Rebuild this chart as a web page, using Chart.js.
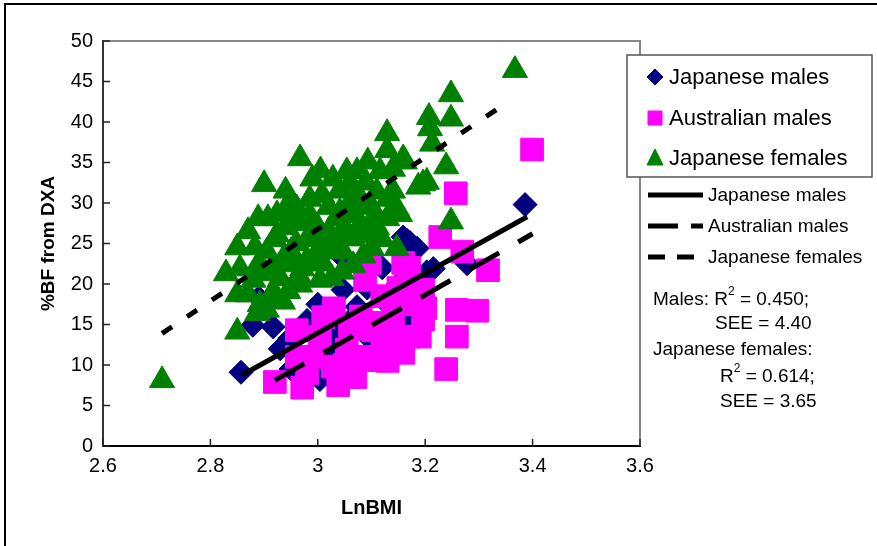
<!DOCTYPE html>
<html>
<head>
<meta charset="utf-8">
<script src="https://cdn.jsdelivr.net/npm/chart.js@4.4.1/dist/chart.umd.min.js"></script>
<style>
  html, body { margin: 0; padding: 0; background: #fff; }
  #wrap { position: relative; width: 877px; height: 546px; }
</style>
</head>
<body>
<div id="wrap"><canvas id="chart" width="877" height="546"></canvas></div>
<script>
// Japanese males (diamonds)
var jmX = [3.386, 2.857, 3.278, 3.172, 3.185, 3.203, 3.215, 3.047, 2.879, 2.917, 2.948, 3.032, 3.041, 2.985, 3.004, 3.166, 3.159, 3.073,
    3.092, 2.967, 2.950, 2.890, 3.060, 3.100, 3.130, 3.150, 3.020, 3.080, 2.980, 3.000, 3.120, 3.170, 3.200, 3.030, 2.930, 3.050];
var jmY = [29.8, 9.1, 22.5, 25.1, 24.4, 21.5, 21.9, 19.3, 14.9, 14.7, 13.3, 14.0, 12.8, 8.5, 8.2, 25.4, 25.8, 17.2,
    19.5, 8.4, 9.5, 18.3, 15.5, 13.0, 17.5, 20.0, 11.5, 11.0, 15.5, 17.5, 22.0, 15.0, 18.0, 8.0, 12.0, 23.0];

// Australian males (squares)
var amX = [3.399, 3.257, 3.228, 3.269, 3.317, 3.259, 3.297, 3.259, 3.239, 3.159, 3.196, 3.196, 3.190, 3.159, 3.140, 3.116, 3.092, 3.088,
    3.097, 2.920, 2.971, 3.038, 2.961, 2.961, 3.010, 3.028, 3.054, 3.092, 3.103, 3.004, 3.060, 3.120, 3.140, 3.170, 3.180, 3.150,
    3.120, 3.200, 2.990, 3.070, 3.030, 3.080, 3.150, 3.170, 2.980, 3.050, 3.130, 3.165];
var amY = [36.6, 31.2, 25.8, 24.0, 21.7, 16.8, 16.7, 13.5, 9.5, 22.6, 19.3, 15.6, 13.5, 11.5, 17.2, 15.2, 11.0, 20.5,
    22.6, 7.9, 7.2, 7.5, 14.3, 11.0, 15.9, 9.8, 11.9, 10.6, 14.3, 13.5, 14.5, 13.0, 14.5, 13.5, 17.5, 19.5,
    18.5, 17.0, 11.0, 8.5, 17.0, 16.0, 12.5, 22.0, 9.0, 10.0, 10.5, 19.0];

// Japanese females (triangles)
var jfX = [2.710, 3.367, 3.248, 3.248, 3.207, 3.209, 3.213, 3.129, 3.239, 3.159, 3.196, 3.187, 3.248, 3.147, 3.147, 2.967, 2.900, 2.829,
    2.850, 2.850, 2.850, 2.889, 2.907, 2.883, 2.948, 2.902, 2.896, 2.935, 2.892, 2.917, 2.945, 2.971, 2.870, 2.855, 2.889, 2.905,
    2.924, 2.961, 2.985, 3.028, 3.054, 3.073, 3.093, 3.116, 3.140, 3.041, 3.079, 3.103, 3.064, 3.026, 3.047, 2.954, 2.985, 2.924,
    2.940, 3.008, 2.930, 2.905, 2.967, 2.999, 3.036, 3.079, 3.110, 3.066, 3.101, 3.129, 3.153, 3.203, 3.129, 3.162, 3.026, 3.000,
    2.887, 2.924, 3.004, 2.920, 2.940, 2.960, 2.980, 3.000, 3.020, 3.040, 3.060, 3.080, 3.100, 3.120, 3.050, 2.990, 3.020, 3.090,
    3.130, 2.950, 2.975, 3.070, 3.010, 3.060, 3.110, 2.935, 2.955, 3.040, 2.870, 2.880, 3.085, 3.140, 3.005, 2.965, 2.995, 3.015,
    3.045, 2.915, 2.945, 3.075, 3.095, 2.985, 3.055];
var jfY = [8.1, 46.4, 43.4, 40.4, 40.6, 39.2, 37.3, 38.6, 34.5, 35.5, 32.4, 32.0, 27.7, 29.3, 24.4, 35.5, 32.3, 21.3,
    24.5, 18.7, 14.1, 28.1, 28.1, 24.5, 30.2, 21.3, 17.0, 17.8, 17.5, 19.1, 19.1, 21.9, 18.7, 21.9, 22.4, 24.0,
    26.1, 29.3, 30.5, 33.0, 33.9, 33.9, 35.1, 33.9, 34.2, 28.9, 30.2, 28.1, 25.6, 20.7, 24.0, 22.4, 26.1, 28.6,
    31.5, 31.0, 20.7, 16.8, 19.9, 24.0, 28.1, 27.3, 31.4, 22.3, 24.4, 28.1, 28.6, 32.6, 36.5, 35.1, 24.9, 22.8,
    16.4, 18.0, 20.5, 25.5, 27.0, 25.0, 23.0, 27.0, 29.5, 31.5, 30.0, 26.0, 29.5, 25.5, 27.0, 33.0, 26.5, 32.5,
    30.5, 24.0, 27.5, 28.5, 22.5, 32.5, 27.0, 23.0, 28.0, 26.0, 26.5, 20.5, 23.5, 31.5, 34.0, 21.0, 25.5, 24.0,
    21.5, 22.0, 29.0, 31.0, 26.5, 28.5, 29.5];

// regression lines (end points)
var jmLineX = [2.86, 3.39], jmLineY = [8.8, 28.3];
var amLineX = [2.92, 3.40], amLineY = [8.1, 26.2];
var jfLineX = [2.71, 3.35], jfLineY = [13.9, 42.3];

var xTicks = ['2.6', '2.8', '3', '3.2', '3.4', '3.6'];
var yTicks = ['0', '5', '10', '15', '20', '25', '30', '35', '40', '45', '50'];

var seriesNames = ['Japanese males', 'Australian males', 'Japanese females'];
var NAVY = '#000080', PINK = '#ff00ff', GREEN = '#008000';
var FONT = "'Liberation Sans', Arial, sans-serif";

function pts(xs, ys) {
    return xs.map(function (x, i) { return { x: x, y: ys[i] }; });
}

var decor = {
    id: 'decor',
    beforeDraw: function (chart) {
        var ctx = chart.ctx;
        ctx.save();
        ctx.fillStyle = '#fff';
        ctx.fillRect(0, 0, chart.width, chart.height);
        ctx.strokeStyle = '#000';
        ctx.lineWidth = 2;
        ctx.beginPath();
        ctx.moveTo(5, chart.height);
        ctx.lineTo(5, 4);
        ctx.lineTo(chart.width, 4);
        ctx.stroke();
        ctx.restore();
    },
    beforeDatasetsDraw: function (chart) {
        var ctx = chart.ctx, a = chart.chartArea, xs = chart.scales.x, ys = chart.scales.y;
        ctx.save();
        // gray top / right frame of the plot area
        ctx.strokeStyle = '#888';
        ctx.lineWidth = 2;
        ctx.beginPath();
        ctx.moveTo(a.left, a.top);
        ctx.lineTo(a.right, a.top);
        ctx.lineTo(a.right, a.bottom);
        ctx.stroke();
        // inside tick marks
        ctx.strokeStyle = '#222';
        ctx.lineWidth = 1.5;
        ctx.beginPath();
        xTicks.forEach(function (t) {
            var px = xs.getPixelForValue(parseFloat(t));
            ctx.moveTo(px, a.bottom);
            ctx.lineTo(px, a.bottom - 7);
        });
        yTicks.forEach(function (t) {
            var py = ys.getPixelForValue(parseFloat(t));
            ctx.moveTo(a.left, py);
            ctx.lineTo(a.left + 7, py);
        });
        ctx.stroke();
        ctx.restore();
    },
    afterDraw: function (chart) {
        var ctx = chart.ctx;
        ctx.save();
        // marker legend box
        ctx.fillStyle = '#fff';
        ctx.fillRect(627, 55, 245, 122);
        ctx.strokeStyle = '#555';
        ctx.lineWidth = 1.5;
        ctx.strokeRect(627, 55, 245, 122);

        var rows = [77, 118, 158];
        var marks = chart.data.datasets.slice(3);
        ctx.textBaseline = 'middle';
        ctx.textAlign = 'left';
        marks.forEach(function (ds, i) {
            var y = rows[i];
            ctx.fillStyle = ds.backgroundColor;
            ctx.strokeStyle = ds.borderColor;
            ctx.lineWidth = 1;
            ctx.beginPath();
            if (ds.pointStyle === 'rectRot') {
                ctx.moveTo(655, y - 8); ctx.lineTo(663, y); ctx.lineTo(655, y + 8); ctx.lineTo(647, y);
            } else if (ds.pointStyle === 'rect') {
                ctx.rect(648, y - 7, 14, 14);
            } else {
                ctx.moveTo(655, y - 9); ctx.lineTo(663, y + 7); ctx.lineTo(647, y + 7);
            }
            ctx.closePath();
            ctx.fill();
            ctx.stroke();
            ctx.fillStyle = '#000';
            ctx.font = '22px ' + FONT;
            ctx.fillText(ds.label, 669, y + 1);
        });

        // line legend
        var lrows = [195, 226, 257];
        var ldash = [[], [30, 13], [17, 12]];
        ctx.strokeStyle = '#000';
        ctx.lineWidth = 5;
        lrows.forEach(function (y, i) {
            ctx.setLineDash(ldash[i]);
            ctx.beginPath();
            ctx.moveTo(648, y);
            ctx.lineTo(703, y);
            ctx.stroke();
            ctx.setLineDash([]);
            ctx.font = '19px ' + FONT;
            ctx.fillText(seriesNames[i], 708, y + 1);
        });

        // statistics text
        function supLine(x, y, pre, post) {
            ctx.font = '19px ' + FONT;
            ctx.fillText(pre, x, y);
            var w = ctx.measureText(pre).width;
            ctx.font = '12px ' + FONT;
            ctx.fillText('2', x + w, y - 8);
            var w2 = ctx.measureText('2').width;
            ctx.font = '19px ' + FONT;
            ctx.fillText(post, x + w + w2, y);
        }
        supLine(653, 300, 'Males: R', ' = 0.450;');
        ctx.font = '19px ' + FONT;
        ctx.fillText('SEE = 4.40', 715, 324);
        ctx.fillText('Japanese females:', 653, 350);
        supLine(720, 377, 'R', ' = 0.614;');
        ctx.font = '19px ' + FONT;
        ctx.fillText('SEE = 3.65', 720, 402);
        ctx.restore();
    }
};

window.onload = function () {
    var ctx = document.getElementById('chart').getContext('2d');
    new Chart(ctx, {
        type: 'scatter',
        data: {
            datasets: [{
                label: seriesNames[0] + ' fit',
                data: pts(jmLineX, jmLineY),
                showLine: true,
                borderColor: '#000',
                borderWidth: 5,
                pointRadius: 0,
                order: 0
            }, {
                label: seriesNames[1] + ' fit',
                data: pts(amLineX, amLineY),
                showLine: true,
                borderColor: '#000',
                borderWidth: 5,
                borderDash: [34, 22],
                pointRadius: 0,
                order: 1
            }, {
                label: seriesNames[2] + ' fit',
                data: pts(jfLineX, jfLineY),
                showLine: true,
                borderColor: '#000',
                borderWidth: 5,
                borderDash: [12, 18],
                pointRadius: 0,
                order: 2
            }, {
                label: seriesNames[0],
                data: pts(jmX, jmY),
                pointStyle: 'rectRot',
                pointRadius: 12,
                backgroundColor: NAVY,
                borderColor: NAVY,
                borderWidth: 1,
                order: 5
            }, {
                label: seriesNames[1],
                data: pts(amX, amY),
                pointStyle: 'rect',
                pointRadius: 16,
                backgroundColor: PINK,
                borderColor: PINK,
                borderWidth: 1,
                order: 4
            }, {
                label: seriesNames[2],
                data: pts(jfX, jfY),
                pointStyle: 'triangle',
                pointRadius: 14.5,
                backgroundColor: GREEN,
                borderColor: GREEN,
                borderWidth: 1,
                order: 3
            }]
        },
        options: {
            responsive: false,
            animation: false,
            events: [],
            layout: { padding: { left: 5, top: 41, right: 237, bottom: 0 } },
            plugins: {
                legend: { display: false },
                tooltip: { enabled: false }
            },
            scales: {
                x: {
                    type: 'linear',
                    min: 2.6,
                    max: 3.6,
                    afterFit: function (scale) { scale.height = 100; },
                    afterBuildTicks: function (scale) {
                        scale.ticks = xTicks.map(function (t) { return { value: parseFloat(t) }; });
                    },
                    ticks: {
                        color: '#000',
                        padding: 8,
                        maxRotation: 0,
                        font: { family: FONT, size: 20 },
                        callback: function (v) { return xTicks.find(function (t) { return Math.abs(parseFloat(t) - v) < 1e-6; }); }
                    },
                    grid: { display: false, drawTicks: false },
                    border: { display: true, color: '#000', width: 2 },
                    title: {
                        display: true,
                        text: 'LnBMI',
                        color: '#000',
                        font: { family: FONT, size: 20, weight: 'bold' },
                        padding: { top: 0, bottom: 26 }
                    }
                },
                y: {
                    type: 'linear',
                    min: 0,
                    max: 50,
                    afterFit: function (scale) { scale.width = 98; },
                    afterBuildTicks: function (scale) {
                        scale.ticks = yTicks.map(function (t) { return { value: parseFloat(t) }; });
                    },
                    ticks: {
                        color: '#000',
                        padding: 10,
                        font: { family: FONT, size: 20 },
                        callback: function (v) { return String(v); }
                    },
                    grid: { display: false, drawTicks: false },
                    border: { display: true, color: '#333', width: 2 },
                    title: {
                        display: true,
                        text: '%BF from DXA',
                        color: '#000',
                        font: { family: FONT, size: 19, weight: 'bold' },
                        padding: { top: 32, bottom: 0 }
                    }
                }
            }
        },
        plugins: [decor]
    });
};
</script>
</body>
</html>
